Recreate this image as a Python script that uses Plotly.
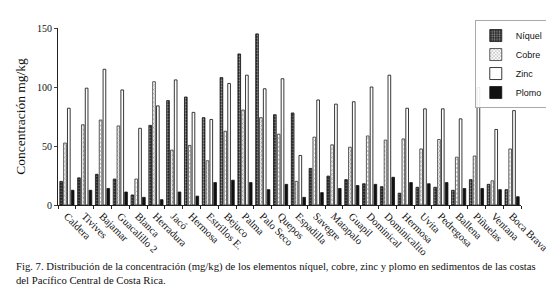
import plotly.graph_objects as go

categories = ["Caldera", "Tivives", "Bajamar", "Guacalillo 2", "Blanca", "Herradura", "Jacó",
              "Hermosa", "Estrillos E.", "Bejuco", "Palma", "Palo Seco", "Quepos", "Espadilla",
              "Savegre", "Matapalo", "Guapil", "Dominical", "Dominicalito", "Hermosa", "Uvita",
              "Pedregosa", "Ballena", "Piñuelas", "Ventana", "Boca Brava"]
niquel = [20, 23, 26, 22, 8.5, 67.5, 88.5, 91.5, 74, 108, 128, 145, 76.5, 78, 31, 24.5,
          21.5, 18, 15.5, 10, 15, 15, 12.5, 21.5, 17.5, 13]
cobre = [52.5, 68, 72, 67, 22, 104.5, 46.5, 50.5, 37.5, 62.5, 80.5, 74, 60, 20, 57.5, 51,
         49, 58.5, 55, 56, 47.5, 55.5, 40.5, 41.5, 20.5, 47.5]
zinc = [82, 99, 115, 97.5, 65, 84, 106, 78.5, 72.5, 103, 110, 98.5, 107, 42, 89, 85.5,
        87.5, 100, 110, 82, 81.5, 81.5, 73, 99.5, 64, 80]
plomo = [12.5, 12.5, 14, 11, 6.5, 4.5, 11, 7.5, 19, 21, 19, 13, 17.5, 6.5, 10.5, 14,
         16.5, 17.5, 23.5, 19, 18, 19, 14, 14, 13, 7]
series_names = ["Níquel", "Cobre", "Zinc", "Plomo"]
yticks = [0, 50, 100, 150]

xpos = list(range(len(categories)))
serif = "Liberation Serif, Times New Roman, serif"

styles = [
    dict(color="#1a1a1a", line=dict(color="#111", width=0.8),
         pattern=dict(shape=".", fgcolor="white", bgcolor="#1a1a1a", size=3, solidity=0.45)),
    dict(color="white", line=dict(color="#333", width=0.8),
         pattern=dict(shape="x", fgcolor="#444", bgcolor="white", size=3, solidity=0.35)),
    dict(color="white", line=dict(color="#222", width=0.9)),
    dict(color="#111", line=dict(color="#111", width=0.8)),
]

fig = go.Figure()
for name, vals, st in zip(series_names, [niquel, cobre, zinc, plomo], styles):
    fig.add_trace(go.Bar(x=xpos, y=vals, name=name, marker=st))

fig.update_layout(
    width=554, height=294,
    margin=dict(l=48, r=39, t=15, b=97),
    paper_bgcolor="white", plot_bgcolor="white",
    barmode="group", bargap=0.14, bargroupgap=0.3,
    font=dict(family=serif, color="#111", size=10),
    showlegend=True,
    legend=dict(x=1.06, y=1.045, xanchor="right", yanchor="top",
                bgcolor="rgba(255,255,255,0.9)", bordercolor="#aaa", borderwidth=1,
                font=dict(family="Liberation Sans, Arial, sans-serif", size=9),
                itemwidth=30, tracegroupgap=0),
)
fig.update_yaxes(range=[0, 150], tickvals=yticks, ticks="outside", ticklen=3,
                 showline=True, linecolor="#222", linewidth=1, showgrid=False, zeroline=False,
                 title=dict(text="Concentración mg/kg", font=dict(size=13.5, family=serif), standoff=8),
                 tickfont=dict(size=10, family=serif))
fig.update_xaxes(range=[-0.5, len(categories) - 0.5], tickvals=xpos, ticktext=categories,
                 tickangle=45, ticks="", showline=True, linecolor="#222", linewidth=1,
                 showgrid=False, zeroline=False, tickfont=dict(size=10.5, family=serif),
                 minor=dict(tickvals=[i - 0.5 for i in xpos] + [len(categories) - 0.5],
                            ticks="outside", ticklen=3, tickcolor="#222", showgrid=False))

fig.add_annotation(
    xref="paper", yref="paper", x=-0.096, y=-0.30, xanchor="left", yanchor="top",
    align="left", showarrow=False,
    text="Fig. 7. Distribución de la concentración (mg/kg) de los elementos níquel, cobre, zinc y plomo en sedimentos de las costas<br>del Pacífico Central de Costa Rica.",
    font=dict(family=serif, size=10.7, color="#111"))

fig.write_html("out.html")
